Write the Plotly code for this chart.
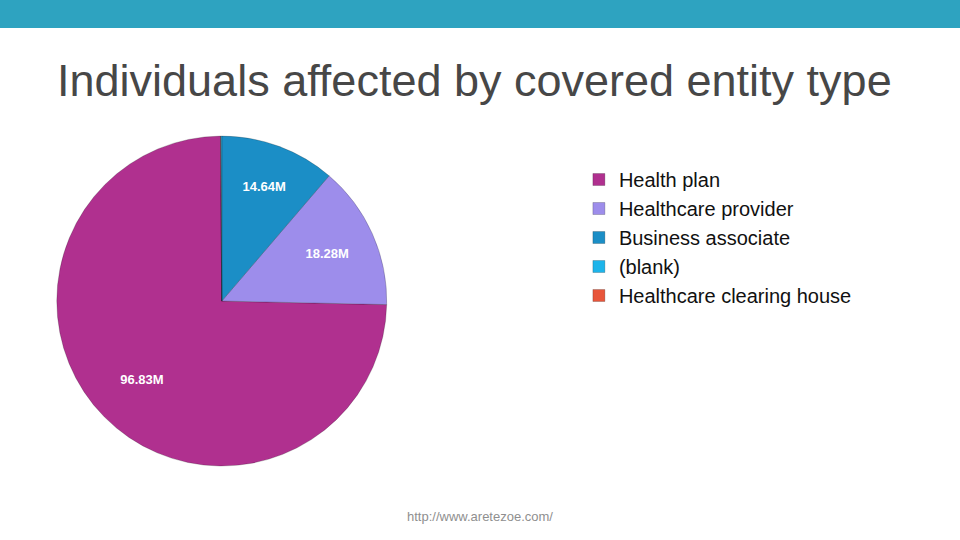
'''
Pie chart of individuals affected by covered entity type.
'''

import plotly.graph_objects as go

# Data (millions of individuals)
labels = ['Health plan', 'Healthcare provider', 'Business associate',
          '(blank)', 'Healthcare clearing house']
values = [96.83, 18.28, 14.64, 0.12, 0.03]
colors = ['#b0308f', '#9d8deb', '#1b8ec6', '#1db4ea', '#e8553a']
text_pos = ['inside', 'inside', 'inside', 'none', 'none']

TITLE = 'Individuals affected by covered entity type'
FOOTER = 'http://www.aretezoe.com/'


def main() -> None:
    total = sum(values)
    # Health plan / provider boundary sits just past 3 o'clock
    rotation = (values[1] + values[2]) / total * 360

    pie_domain = {'x': [0.059, 0.403], 'y': [0.137, 0.748]}

    fig = go.Figure()
    fig.add_trace(go.Pie(
        labels=labels,
        values=values,
        sort=False,
        direction='counterclockwise',
        rotation=rotation,
        marker={'colors': colors,
                'line': {'color': 'rgba(0, 0, 0, 0.25)', 'width': 0.8}},
        textposition='none',
        hoverinfo='label+value',
        domain=pie_domain,
    ))

    # Transparent ring on top, only to carry the value labels further out
    fig.add_trace(go.Pie(
        labels=labels,
        values=values,
        sort=False,
        direction='counterclockwise',
        rotation=rotation,
        hole=0.36,
        marker={'colors': ['rgba(0,0,0,0)'] * len(values),
                'line': {'width': 0}},
        texttemplate='%{value:.2f}M',
        textposition=text_pos,
        insidetextorientation='horizontal',
        textfont={'family': 'Liberation Sans, Arial', 'size': 13,
                  'color': 'white', 'weight': 'bold'},
        hoverinfo='skip',
        showlegend=False,
        domain=pie_domain,
    ))

    # Teal band across the top
    fig.add_shape(type='rect', xref='paper', yref='paper',
                  x0=0, x1=1, y0=1 - 28 / 540, y1=1,
                  fillcolor='#2ea3c0', line={'width': 0}, layer='below')

    fig.add_annotation(
        text=TITLE, xref='paper', yref='paper', x=0.494, y=1 - 80 / 540,
        showarrow=False, xanchor='center', yanchor='middle',
        font={'family': 'Liberation Sans, Arial', 'size': 45, 'color': '#474747'}
    )
    fig.add_annotation(
        text=FOOTER, xref='paper', yref='paper', x=0.5, y=1 - 516 / 540,
        showarrow=False, xanchor='center', yanchor='middle',
        font={'family': 'Liberation Sans, Arial', 'size': 13, 'color': '#8f8f8f'}
    )

    fig.update_layout(
        width=960,
        height=540,
        margin={'l': 0, 'r': 0, 't': 0, 'b': 0},
        paper_bgcolor='white',
        plot_bgcolor='white',
        showlegend=True,
        legend={'x': 0.603, 'y': 1 - 160 / 540, 'xanchor': 'left', 'yanchor': 'top',
                'font': {'family': 'Liberation Sans, Arial', 'size': 20,
                         'color': '#111111'},
                'tracegroupgap': 0, 'itemclick': False},
    )

    fig.write_html('out.html', config={'displayModeBar': False},
                   post_script="document.body.style.margin='0';")


if __name__ == '__main__':
    main()
